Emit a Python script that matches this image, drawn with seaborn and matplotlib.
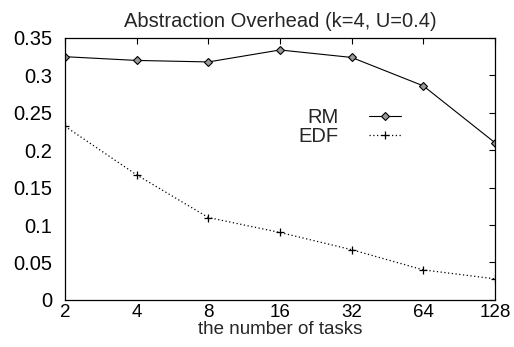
import numpy as np
import pandas as pd
import matplotlib
matplotlib.use("Agg")
import matplotlib.pyplot as plt
import seaborn as sns

# Data
n_tasks = [2, 4, 8, 16, 32, 64, 128]
rm_overhead = [0.325, 0.320, 0.318, 0.334, 0.324, 0.286, 0.210]
edf_overhead = [0.232, 0.167, 0.110, 0.090, 0.067, 0.040, 0.028]
y_ticks = [0, 0.05, 0.1, 0.15, 0.2, 0.25, 0.3, 0.35]
y_tick_labels = ["0", "0.05", "0.1", "0.15", "0.2", "0.25", "0.3", "0.35"]

sns.set_theme(style="white")
plt.rcParams["font.family"] = ["Liberation Sans", "DejaVu Sans"]
fs = 14.5
fs_x = 13.5

df = pd.DataFrame({"tasks": n_tasks, "RM": rm_overhead, "EDF": edf_overhead})

fig = plt.figure(figsize=(5.14, 3.47), dpi=100)
ax = fig.add_axes([0.1265, 0.136, 0.8365, 0.7545])

sns.lineplot(data=df, x="tasks", y="RM", ax=ax, color="black", lw=0.8,
             marker="D", markersize=4, markerfacecolor="#999999",
             markeredgecolor="black", markeredgewidth=0.8, label="RM")
sns.lineplot(data=df, x="tasks", y="EDF", ax=ax, color="black", lw=0.9,
             linestyle=(0, (1, 2)), marker="+", markersize=6,
             markeredgecolor="black", markeredgewidth=0.9, label="EDF")

ax.set_xscale("log", base=2)
ax.set_xlim(2, 128)
ax.set_xticks(n_tasks)
ax.set_xticklabels([str(t) for t in n_tasks])
ax.minorticks_off()
ax.set_ylim(0, 0.35)
ax.set_yticks(y_ticks)
ax.set_yticklabels(y_tick_labels)

ax.tick_params(axis="both", direction="in", length=4.5, width=0.8,
               top=True, right=True, labelsize=fs, pad=9, colors="black")
ax.tick_params(axis="x", pad=3, labelsize=fs_x)
for sp in ax.spines.values():
    sp.set_color("black")
    sp.set_linewidth(0.9)

ax.set_title("Abstraction Overhead (k=4, U=0.4)", fontsize=fs, pad=8)
ax.set_xlabel("the number of tasks", fontsize=fs_x, labelpad=0)
ax.set_ylabel("")

leg = ax.legend(loc="upper right", bbox_to_anchor=(0.80, 0.765), frameon=False,
                markerfirst=False, handlelength=1.6, handletextpad=1.5,
                labelspacing=0.0, fontsize=fs, borderaxespad=0)

fig.savefig("out.png", dpi=100)
plt.close(fig)
